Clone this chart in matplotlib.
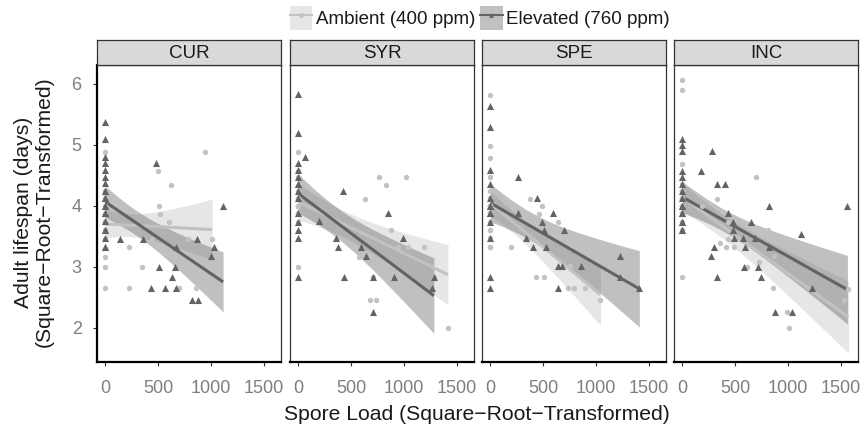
import numpy as np
import matplotlib
matplotlib.use("Agg")
import matplotlib.pyplot as plt
from matplotlib.patches import Patch
from matplotlib.lines import Line2D

plt.rcParams['font.family'] = ['Liberation Sans', 'DejaVu Sans']

panels = ['CUR', 'SYR', 'SPE', 'INC']
groups = ['Ambient (400 ppm)', 'Elevated (760 ppm)']

# ambient (circles) and elevated (triangles) points
# (many uninfected points sit on top of each other at x = 0)
cur_amb_x = [0] * 23 + [227, 345, 227, 500, 506, 519, 600, 624, 780, 941, 1009, 693, 854, 444]
cur_amb_y = [4.89, 4.24, 4.0, 3.87, 3.73, 3.46, 3.16, 3.0, 2.66, 4.0, 3.87, 4.13, 3.73, 4.24, 3.61,
             3.73, 3.61, 3.87, 3.61, 3.73, 3.87, 3.46, 3.73,
             3.32, 3.0, 2.66, 4.58, 4.0, 3.87, 3.73, 4.35, 3.46, 4.89, 3.46, 2.66, 2.66, 3.46]
cur_elv_x = [0] * 21 + [140, 351, 475, 506, 662, 630, 429, 568, 668, 668, 823, 879, 863, 1028, 997, 1112]
cur_elv_y = [5.38, 5.10, 4.80, 4.70, 4.59, 4.48, 4.37, 4.25, 4.13, 3.89, 3.61, 3.32, 3.61, 3.75, 3.88, 3.48, 3.32, 4.0,
             4.13, 4.0, 4.25,
             3.46, 3.46, 4.70, 3.0, 3.0, 2.83, 2.66, 2.66, 2.66, 3.32, 2.46, 2.46, 3.46, 3.32, 3.17, 4.0]

syr_amb_x = [0] * 16 + [761, 829, 1016, 630, 876, 944, 1031, 1186, 571, 680, 730, 1413, 705, 1280, 901]
syr_amb_y = [4.89, 4.58, 4.47, 4.0, 3.73, 3.0, 4.0, 4.13, 3.88, 4.24, 4.0, 4.13, 4.0, 3.88, 4.13, 4.0,
             4.47, 4.35, 4.47, 4.11, 3.60, 3.32, 3.32, 3.32, 3.16, 2.45, 2.45, 2.0, 2.83, 2.83, 2.83]
syr_elv_x = [0] * 14 + [59, 196, 419, 354, 379, 435, 587, 637, 705, 705, 845, 901, 985, 1280, 1258]
syr_elv_y = [5.83, 5.19, 4.70, 4.59, 4.36, 4.24, 4.13, 3.88, 3.73, 3.61, 3.48, 2.83, 4.36, 4.47,
             4.80, 3.75, 4.25, 3.48, 3.32, 2.83, 3.32, 3.17, 2.83, 2.26, 3.88, 2.83, 3.48, 2.83, 2.66]

spe_amb_x = [0] * 24 + [193, 373, 488, 457, 637, 429, 503, 730, 786, 891, 755, 1040]
spe_amb_y = [5.82, 4.99, 4.79, 4.47, 4.24, 3.61, 3.32, 3.61, 3.48, 3.74, 3.88, 4.0, 3.32, 3.88, 4.0, 4.13,
             4.0, 3.88, 4.0, 4.13, 3.88, 4.0, 3.74, 4.0,
             3.32, 4.11, 4.0, 3.87, 3.74, 2.83, 2.83, 2.66, 2.66, 2.66, 3.01, 2.45]
spe_elv_x = [0] * 13 + [258, 444, 264, 590, 488, 503, 699, 332, 401, 522, 637, 674, 854, 637, 1221, 1227, 1407]
spe_elv_y = [5.64, 5.29, 4.59, 4.36, 4.13, 4.0, 3.88, 3.74, 3.48, 2.83, 2.66, 4.0, 3.88,
             4.47, 4.13, 3.88, 3.88, 3.74, 3.61, 3.61, 3.48, 3.32, 3.32, 3.01, 3.01, 3.01, 2.66, 3.17, 2.83, 2.66]

inc_amb_x = [0] * 23 + [699, 326, 186, 435, 357, 413, 491, 435, 808, 870, 724, 615, 860, 988, 1009, 1569, 1531]
inc_amb_y = [6.07, 5.90, 4.69, 2.83, 4.0, 3.88, 4.13, 4.24, 3.74, 3.61, 4.36, 4.0, 3.88, 3.61, 3.74,
             4.13, 4.24, 4.0, 4.13, 4.24, 4.0, 4.13, 4.0,
             4.47, 4.11, 4.0, 3.74, 3.39, 3.32, 3.32, 3.46, 3.61, 3.17, 3.08, 3.0, 2.66, 2.26, 2.0, 2.64, 2.45]
inc_elv_x = [0] * 16 + [180, 280, 326, 407, 435, 481, 475, 491, 575, 590, 646, 683,
                        295, 273, 326, 584, 717, 739, 817, 817, 1124, 1227, 876, 1034, 1559]
inc_elv_y = [5.10, 5.0, 4.90, 4.58, 4.47, 4.36, 4.24, 4.13, 4.0, 3.88, 3.74, 3.61, 3.61, 3.74, 3.88, 4.0,
             4.58, 4.90, 4.36, 4.36, 3.88, 3.74, 3.61, 3.48, 3.48, 3.32, 3.74, 3.48,
             3.32, 3.17, 2.83, 3.0, 3.0, 2.83, 4.0, 3.32, 3.54, 2.66, 2.26, 2.26, 4.0]

data = {
    'CUR': [(cur_amb_x, cur_amb_y), (cur_elv_x, cur_elv_y)],
    'SYR': [(syr_amb_x, syr_amb_y), (syr_elv_x, syr_elv_y)],
    'SPE': [(spe_amb_x, spe_amb_y), (spe_elv_x, spe_elv_y)],
    'INC': [(inc_amb_x, inc_amb_y), (inc_elv_x, inc_elv_y)],
}

pt_colors = ['#C2C2C2', '#636363']
markers = ['o', '^']
sizes = [15, 26]


def t975(df):
    z = 1.959964
    return z + (z**3 + z) / (4 * df) + (5 * z**5 + 16 * z**3 + 3 * z) / (96 * df**2)


def lm_band(x, y):
    # linear fit with 95% confidence band, like geom_smooth(method='lm')
    x = np.asarray(x, float)
    y = np.asarray(y, float)
    n = len(x)
    b1, b0 = np.polyfit(x, y, 1)
    resid = y - (b0 + b1 * x)
    s = np.sqrt(np.sum(resid**2) / (n - 2))
    xs = np.linspace(x.min(), x.max(), 80)
    fit = b0 + b1 * xs
    se = s * np.sqrt(1.0 / n + (xs - x.mean())**2 / np.sum((x - x.mean())**2))
    t = t975(n - 2)
    return xs, fit, fit - t * se, fit + t * se


fig = plt.figure(figsize=(8.66, 4.3), dpi=100)
W, H = 866.0, 430.0
lefts = [97, 290, 482, 674]
pw = 184
top, bottom = 65, 362

for i, name in enumerate(panels):
    ax = fig.add_axes([lefts[i] / W, 1 - bottom / H, pw / W, (bottom - top) / H])
    fits = [lm_band(*data[name][g]) for g in range(2)]
    for g in range(2):
        xs, fit, lo, hi = fits[g]
        ax.fill_between(xs, lo, hi, color=pt_colors[g], alpha=0.4, lw=0, zorder=1)
    for g in range(2):
        xs, fit, lo, hi = fits[g]
        ax.plot(xs, fit, color=pt_colors[g], lw=2.2, zorder=2, solid_capstyle='butt')
    for g in range(2):
        x, y = data[name][g]
        ax.scatter(x, y, s=sizes[g], marker=markers[g], color=pt_colors[g], lw=0, zorder=3)
    ax.set_xlim(-79, 1659)
    ax.set_ylim(1.44, 6.31)
    ax.set_xticks([0, 500, 1000, 1500])
    ax.set_yticks([2, 3, 4, 5, 6])
    ax.tick_params(axis='both', length=3, width=0.8, color='#333333', labelcolor='#7F7F7F', labelsize=13)
    ax.tick_params(axis='x', pad=10)
    ax.tick_params(axis='y', pad=8)
    for sp in ax.spines.values():
        sp.set_color('#333333')
        sp.set_linewidth(0.9)
    ax.spines['bottom'].set_color('black')
    ax.spines['bottom'].set_linewidth(1.6)
    if i == 0:
        ax.spines['left'].set_color('black')
        ax.spines['left'].set_linewidth(1.6)
    else:
        ax.tick_params(axis='y', left=False, labelleft=False)
    # facet strip
    sax = fig.add_axes([lefts[i] / W, 1 - top / H, pw / W, 25 / H])
    sax.set_facecolor('#D9D9D9')
    sax.set_xticks([])
    sax.set_yticks([])
    for sp in sax.spines.values():
        sp.set_color('#333333')
        sp.set_linewidth(0.9)
    sax.text(0.5, 0.45, name, ha='center', va='center', fontsize=13.5, color='#1A1A1A', transform=sax.transAxes)

fig.text(477 / W, 1 - 415 / H, 'Spore Load (Square\u2212Root\u2212Transformed)', ha='center', va='center',
         fontsize=15.2, color='#1A1A1A')
fig.text(34 / W, 1 - 212 / H, 'Adult lifespan (days)\n(Square\u2212Root\u2212Transformed)', ha='center', va='center',
         rotation=90, fontsize=15.2, color='#1A1A1A', linespacing=1.1)

handles = []
for g in range(2):
    box = Patch(facecolor=pt_colors[g], alpha=0.4, edgecolor='none')
    ln = Line2D([], [], color=pt_colors[g], lw=1.5, marker=markers[g], markersize=3.5, markeredgewidth=0)
    handles.append((box, ln))
fig.legend(handles, groups, loc='center', bbox_to_anchor=(480 / W, 1 - 18 / H), ncol=2, frameon=False,
           fontsize=13.5, handlelength=1.2, handleheight=1.6, handletextpad=0.2, columnspacing=0.25,
           labelcolor='#1A1A1A')

fig.savefig('out.png', dpi=100)
